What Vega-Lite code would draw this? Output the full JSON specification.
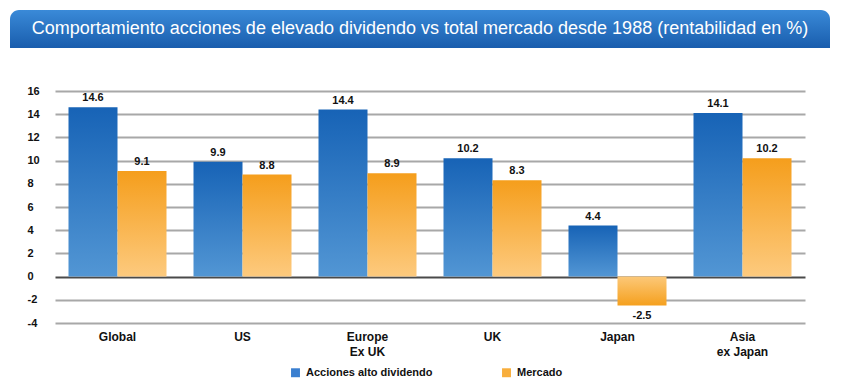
{
  "$schema": "https://vega.github.io/schema/vega-lite/v6.json",
  "background": "white",
  "padding": {"left": 10, "top": 10, "right": 5, "bottom": 0},
  "spacing": 37,
  "config": {
    "font": "Liberation Sans",
    "view": {"stroke": null}
  },
  "datasets": {
    "bars": [
      {"region": "Global", "series": "Acciones alto dividendo", "value": 14.6},
      {"region": "Global", "series": "Mercado", "value": 9.1},
      {"region": "US", "series": "Acciones alto dividendo", "value": 9.9},
      {"region": "US", "series": "Mercado", "value": 8.8},
      {"region": "Europe|Ex UK", "series": "Acciones alto dividendo", "value": 14.4},
      {"region": "Europe|Ex UK", "series": "Mercado", "value": 8.9},
      {"region": "UK", "series": "Acciones alto dividendo", "value": 10.2},
      {"region": "UK", "series": "Mercado", "value": 8.3},
      {"region": "Japan", "series": "Acciones alto dividendo", "value": 4.4},
      {"region": "Japan", "series": "Mercado", "value": -2.5},
      {"region": "Asia|ex Japan", "series": "Acciones alto dividendo", "value": 14.1},
      {"region": "Asia|ex Japan", "series": "Mercado", "value": 10.2}
    ],
    "titleRow": [
      {"t": "Comportamiento acciones de elevado dividendo vs total mercado desde 1988  (rentabilidad en %)"}
    ]
  },
  "vconcat": [
    {
      "width": 820,
      "height": 38,
      "data": {"name": "titleRow"},
      "layer": [
        {
          "mark": {"type": "rect", "cornerRadiusTopLeft": 9, "cornerRadiusTopRight": 9,
            "color": {"gradient": "linear", "x1": 0, "y1": 0, "x2": 0, "y2": 1,
              "stops": [{"offset": 0, "color": "#3a8ad8"}, {"offset": 1, "color": "#195dad"}]}},
          "encoding": {}
        },
        {
          "mark": {"type": "text", "color": "white", "fontSize": 18, "font": "Liberation Sans", "baseline": "middle", "align": "center"},
          "encoding": {"text": {"field": "t"}}
        }
      ]
    },
    {
      "width": 820,
      "height": 232,
      "data": {"name": "bars"},
      "encoding": {
        "x": {
          "field": "region", "type": "nominal", "sort": null,
          "scale": {"paddingInner": 0.216, "paddingOuter": 0.108, "range": [45, 795]},
          "axis": {
            "title": null, "labelAngle": 0, "domain": false, "ticks": false,
            "labelExpr": "split(datum.label, '|')",
            "labelFontSize": 12, "labelFontWeight": "bold", "labelColor": "#111",
            "labelPadding": 8, "labelLineHeight": 15
          }
        },
        "xOffset": {"field": "series", "type": "nominal", "scale": {"domain": ["Acciones alto dividendo", "Mercado"], "paddingInner": 0}},
        "y": {
          "field": "value", "type": "quantitative",
          "scale": {"domain": [-4, 16], "nice": false, "zero": false},
          "axis": {
            "title": null, "values": [-4, -2, 0, 2, 4, 6, 8, 10, 12, 14, 16],
            "labelExpr": "toString(datum.value)", "labelOverlap": false,
            "domain": false, "ticks": false, "grid": true,
            "gridColor": {"condition": {"test": "datum.value === 0", "value": "#4a4a4a"}, "value": "#a8a8a8"},
            "gridWidth": 2,
            "offset": -45,
            "labelFontSize": 11, "labelFontWeight": "bold", "labelColor": "#111",
            "labelPadding": 28, "minExtent": 0, "maxExtent": 0, "labelAlign": "left"
          }
        }
      },
      "layer": [
        {
          "mark": {"type": "bar"},
          "encoding": {
            "color": {
              "condition": [
                {"test": "datum.series === 'Mercado' && datum.value < 0", "value": {"gradient": "linear", "x1": 0, "y1": 0, "x2": 0, "y2": 1,
                  "stops": [{"offset": 0, "color": "#fcc878"}, {"offset": 1, "color": "#f5a01e"}]}},
                {"test": "datum.series === 'Mercado'", "value": {"gradient": "linear", "x1": 0, "y1": 0, "x2": 0, "y2": 1,
                  "stops": [{"offset": 0, "color": "#f59e1c"}, {"offset": 1, "color": "#fdca7e"}]}}
              ],
              "value": {"gradient": "linear", "x1": 0, "y1": 0, "x2": 0, "y2": 1,
                "stops": [{"offset": 0, "color": "#1763b6"}, {"offset": 1, "color": "#5296d4"}]}
            }
          }
        },
        {
          "transform": [{"filter": "false"}],
          "mark": {"type": "bar"},
          "encoding": {
            "color": {
              "field": "series", "type": "nominal",
              "scale": {"domain": ["Acciones alto dividendo", "Mercado"], "range": ["#3a7fd0", "#f8ae3c"]},
              "legend": {
                "title": null, "orient": "none", "legendX": 280, "legendY": 357,
                "direction": "horizontal",
                "symbolType": "square", "symbolSize": 80, "symbolStrokeWidth": 0,
                "labelFontSize": 11, "labelFontWeight": "bold", "labelColor": "#111",
                "columnPadding": 68, "labelOffset": 5
              }
            }
          }
        },
        {
          "transform": [{"filter": "datum.value >= 0"}],
          "mark": {"type": "text", "baseline": "bottom", "dy": -4, "fontSize": 11, "fontWeight": "bold", "color": "#111"},
          "encoding": {
            "text": {"value": {"expr": "toString(datum.value)"}}
          }
        },
        {
          "transform": [{"filter": "datum.value < 0"}],
          "mark": {"type": "text", "baseline": "top", "dy": 4, "fontSize": 11, "fontWeight": "bold", "color": "#111"},
          "encoding": {
            "text": {"value": {"expr": "toString(datum.value)"}}
          }
        }
      ]
    }
  ]
}
